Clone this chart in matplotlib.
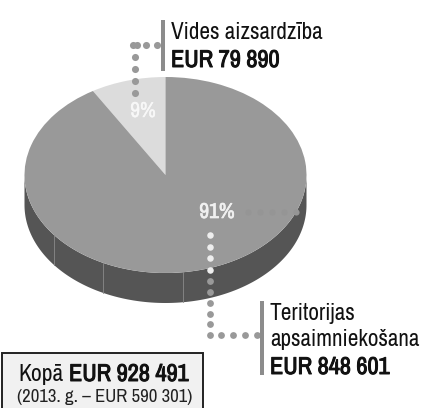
import numpy as np
import matplotlib
matplotlib.use('Agg')
import matplotlib.pyplot as plt
import matplotlib.patheffects as pe
from matplotlib.patches import Rectangle

labels = ['Vides aizsardzība', 'Teritorijas', 'apsaimniekošana']
amounts = ['EUR 79 890', 'EUR 848 601']
values = [79890, 848601]
percents = ['9%', '91%']
colors = ['#dcdcdc', '#999999']
seam_x = [54, 103, 183]  # joins on the side of the pie

plt.rcParams['font.family'] = ['Archivo Narrow', 'Roboto Condensed', 'Liberation Sans', 'DejaVu Sans']

W, H = 426, 408
fig = plt.figure(figsize=(W / 100, H / 100), dpi=100)
# main axes work in image pixels, y pointing down
ax = fig.add_axes([0, 0, 1, 1])
ax.set_xlim(0, W)
ax.set_ylim(H, 0)
ax.axis('off')

cx, cy, rx, ry, depth = 165.5, 175, 141, 98, 30

# side of the pie
t = np.linspace(0, np.pi, 200)
xs = cx + rx * np.cos(t)
ys = cy + ry * np.sin(t)
ax.fill(np.r_[xs, xs[::-1]], np.r_[ys, ys[::-1] + depth], color='#555555', lw=0, zorder=1)
for x in seam_x:
    y = cy + ry * np.sqrt(1 - ((x - cx) / rx) ** 2)
    ax.plot([x, x], [y, y + depth], color='#8a8a8a', lw=0.6, zorder=2)

# top of the pie, own axes so the circle can be squashed
pie_ax = fig.add_axes([(cx - rx) / W, 1 - (cy + ry) / H, 2 * rx / W, 2 * ry / H])
pie_ax.pie(values, colors=colors, startangle=90, radius=1,
           wedgeprops={'linewidth': 0})
pie_ax.set_aspect('auto')
pie_ax.set_xlim(-1, 1)
pie_ax.set_ylim(-1, 1)
pie_ax.patch.set_alpha(0)
pie_ax.set_zorder(2)

# overlay for leaders and text
top = fig.add_axes([0, 0, 1, 1], sharex=ax, sharey=ax)
top.axis('off')
top.patch.set_alpha(0)
top.set_zorder(3)

top.scatter([157, 146, 137, 133, 134.5, 134.5, 134.5, 134.5], [45, 45, 45, 45, 57, 69, 81, 93],
            s=26, color='#999999', lw=0)
top.scatter([209.5] * 4, [235, 247, 258, 270], s=22, color='#eeeeee', lw=0)
top.scatter([209.5] * 6 + [221, 233, 245, 257], [281, 292, 303, 314, 324, 335] + [335] * 4,
            s=24, color='#999999', lw=0)
top.scatter([248, 260, 272, 284, 296], [212] * 5, s=20, color='#959595', lw=0)

top.add_patch(Rectangle((161, 20), 4, 51, color='#8c8c8c', lw=0))
top.add_patch(Rectangle((260, 301), 4, 74, color='#8c8c8c', lw=0))

# the narrow font has no bold file here, a thin stroke thickens it
def bold(color, width=0.7):
    return [pe.withStroke(linewidth=width, foreground=color)]

top.text(171, 39, labels[0], fontsize=16.7, color='#111111')
top.text(171, 67, amounts[0], fontsize=17.5, color='#111111', path_effects=bold('#111111'))
top.text(270, 320, labels[1], fontsize=16.7, color='#111111')
top.text(270, 346, labels[2], fontsize=16.7, color='#111111')
top.text(270, 374, amounts[1], fontsize=17.5, color='#111111', path_effects=bold('#111111'))

top.text(143, 111, percents[0], fontsize=15.5, color='#f8f8f8', ha='center', va='center',
         path_effects=bold('#f8f8f8', 0.3))
top.text(217, 212, percents[1], fontsize=15.5, color='#f0f0f0', ha='center', va='center',
         path_effects=bold('#f0f0f0', 0.5))

# total box
top.add_patch(Rectangle((1.5, 352.5), 201, 60, facecolor='#f1f1f1', edgecolor='#222222', lw=1.4))
top.text(18, 381, 'Kopā', fontsize=17, color='#111111')
top.text(69, 381, 'EUR 928 491', fontsize=17.5, color='#111111', path_effects=bold('#111111'))
top.text(105, 402, '(2013. g. – EUR 590 301)', fontsize=13.5, color='#222222', ha='center')

fig.savefig('out.png', dpi=100)
